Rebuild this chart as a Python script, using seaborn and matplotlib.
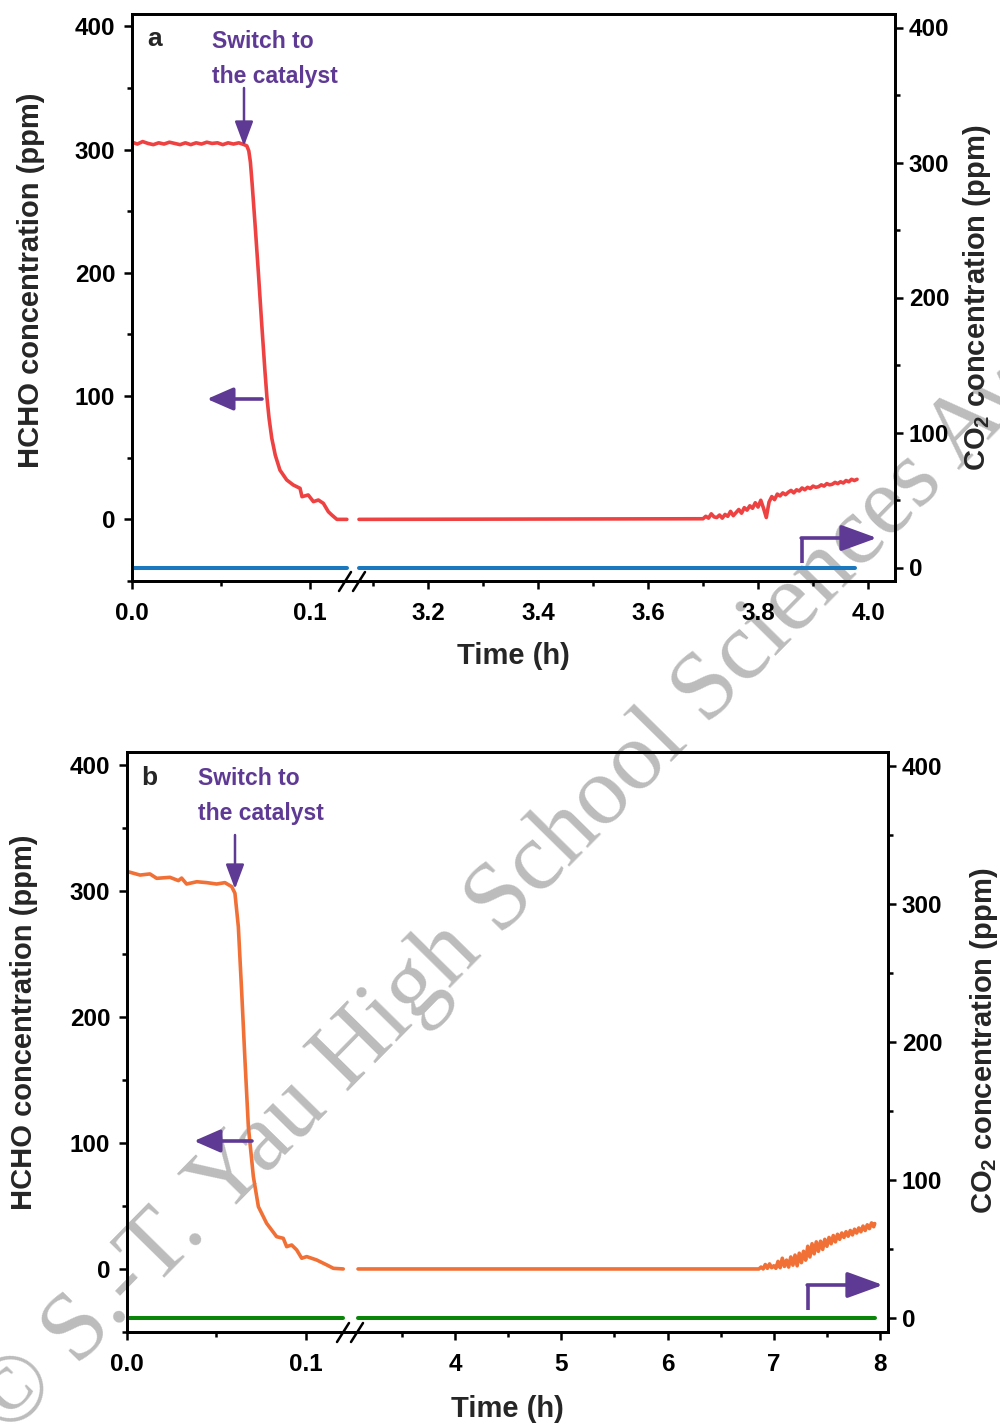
import numpy as np
import pandas as pd
import seaborn as sns
import matplotlib
matplotlib.use("Agg")
import matplotlib.pyplot as plt
from matplotlib.lines import Line2D

# ---------------- data ----------------
# Panel a : HCHO (left axis), first segment of the broken time axis
a_hcho_t1 = [0.000, 0.003, 0.006, 0.009, 0.012, 0.015, 0.018, 0.021, 0.024, 0.027, 0.030,
             0.033, 0.036, 0.039, 0.042, 0.045, 0.048, 0.051, 0.054, 0.057, 0.060, 0.063,
             0.0645, 0.0656, 0.0665, 0.0675, 0.0691, 0.0710, 0.0728, 0.0747, 0.0758, 0.0770,
             0.0785, 0.0805, 0.0831, 0.0869,
             0.0906, 0.0944, 0.0955, 0.0990, 0.1019, 0.1047, 0.1075, 0.1103, 0.1122, 0.1151, 0.1207]
a_hcho_v1 = [306.0, 304.5, 306.5, 305.0, 304.0, 305.5, 304.5, 306.0, 305.0, 304.0, 305.5,
             304.0, 305.5, 304.5, 306.0, 305.0, 305.5, 304.0, 305.5, 304.5, 305.5, 304.0,
             303.0, 299.0, 290.0, 272.0, 240.0, 200.0, 160.0, 120.0, 99.0, 82.0,
             66.0, 52.0, 40.0, 32.0,
             27.9, 25.2, 18.4, 19.8, 14.4, 15.7, 13.0, 6.2, 3.6, 0.0, 0.0]
# Panel a : HCHO, second segment
a_hcho_t2 = [3.0745, 3.700, 3.705, 3.710, 3.715, 3.720, 3.725, 3.730, 3.735, 3.740, 3.745,
             3.750, 3.755, 3.760, 3.765, 3.770, 3.775, 3.780, 3.785, 3.790, 3.795, 3.800,
             3.805, 3.810, 3.815, 3.820, 3.825, 3.830, 3.835, 3.840, 3.845, 3.850, 3.855,
             3.860, 3.865, 3.870, 3.875, 3.880, 3.885, 3.890, 3.895, 3.900, 3.905, 3.910,
             3.915, 3.920, 3.925, 3.930, 3.935, 3.940, 3.945, 3.950, 3.955, 3.960, 3.965,
             3.970, 3.975, 3.980]
a_hcho_v2 = [0.0, 0.5, 2.5, 1.0, 4.5, 2.0, 1.5, 3.5, 1.0, 4.0, 2.5,
             6.5, 3.0, 5.5, 8.0, 5.0, 9.5, 7.5, 11.0, 9.0, 13.5, 10.0,
             15.5, 9.0, 1.5, 14.0, 18.5, 16.0, 20.5, 19.0, 21.5, 20.0, 22.0,
             23.5, 21.5, 24.0, 23.0, 25.5, 24.0, 26.0, 25.0, 27.0, 26.0, 26.5,
             28.0, 27.0, 29.0, 28.0, 28.5, 30.0, 29.0, 30.5, 29.5, 31.5, 30.5,
             32.5, 31.5, 32.5]
# Panel a : CO2 (right axis)
a_co2_t1 = [0.0, 0.1207]
a_co2_v1 = [0.0, 0.0]
a_co2_t2 = [3.0745, 3.976]
a_co2_v2 = [0.0, 0.0]

# Panel b : HCHO, first segment
b_hcho_t1 = [0.0007, 0.0073, 0.0128, 0.0166, 0.0240, 0.0287, 0.0305, 0.0333, 0.0390, 0.0445,
             0.0501, 0.0547, 0.0585, 0.0603, 0.0622, 0.0641, 0.0659, 0.0678, 0.0706, 0.0734,
             0.0780, 0.0836, 0.0873, 0.0892, 0.0920, 0.0948, 0.0976, 0.1004, 0.1060, 0.1116,
             0.1153, 0.1208]
b_hcho_v1 = [315.0, 312.4, 313.3, 309.8, 310.6, 308.0, 310.0, 305.3, 307.1, 306.4,
             305.3, 306.4, 303.2, 298.0, 271.5, 218.8, 165.7, 112.8, 73.2, 49.4,
             36.2, 25.6, 24.3, 17.7, 19.0, 15.1, 8.5, 9.8, 7.1, 3.2,
             0.5, 0.0]
# Panel b : HCHO, second segment
b_hcho_t2 = [3.087, 6.86, 6.88, 6.90, 6.92, 6.94, 6.96, 6.98, 7.00, 7.02, 7.04, 7.06, 7.08,
             7.10, 7.12, 7.14, 7.16, 7.18, 7.20, 7.22, 7.24, 7.26, 7.28, 7.30, 7.32, 7.34,
             7.36, 7.38, 7.40, 7.42, 7.44, 7.46, 7.48, 7.50, 7.52, 7.54, 7.56, 7.58, 7.60,
             7.62, 7.64, 7.66, 7.68, 7.70, 7.72, 7.74, 7.76, 7.78, 7.80, 7.82, 7.84, 7.86,
             7.88, 7.90, 7.92, 7.94, 7.95]
b_hcho_v2 = [0.0, 0.0, 1.5, 0.0, 3.5, 0.5, 4.0, 1.0, 2.5, 0.5, 6.0, 1.0, 8.5,
             2.0, 7.0, 1.5, 9.5, 3.0, 11.0, 2.5, 12.5, 5.0, 14.0, 7.0, 18.0, 9.5,
             20.0, 12.0, 21.5, 14.0, 22.0, 15.5, 23.5, 18.0, 25.0, 20.0, 26.5, 21.5, 27.5,
             23.5, 28.5, 25.0, 29.5, 26.0, 30.5, 27.0, 31.5, 28.5, 32.5, 29.5, 34.0, 30.5,
             35.0, 32.0, 36.5, 33.5, 36.0]
# Panel b : CO2
b_co2_t1 = [0.0, 0.1208]
b_co2_v1 = [0.0, 0.0]
b_co2_t2 = [3.087, 7.953]
b_co2_v2 = [0.0, 0.0]

# ticks / labels
a_xticks = [0.0, 0.1, 3.2, 3.4, 3.6, 3.8, 4.0]
a_xticklabels = ["0.0", "0.1", "3.2", "3.4", "3.6", "3.8", "4.0"]
a_xminor = [0.05, 3.1, 3.3, 3.5, 3.7, 3.9]
b_xticks = [0.0, 0.1, 4, 5, 6, 7, 8]
b_xticklabels = ["0.0", "0.1", "4", "5", "6", "7", "8"]
b_xminor = [0.05, 3.5, 4.5, 5.5, 6.5, 7.5]
y_ticks = [0, 100, 200, 300, 400]
y_minor_left = [-50, 50, 150, 250, 350]
y_minor_right = [50, 150, 250, 350]

# ---------------- style ----------------
sns.set_theme(style="ticks")
plt.rcParams.update({
    "font.family": ["Liberation Sans", "DejaVu Sans"],
    "font.weight": "bold",
    "axes.labelweight": "bold",
    "mathtext.fontset": "custom",
    "mathtext.rm": "Liberation Sans:bold",
    "mathtext.bf": "Liberation Sans:bold",
    "mathtext.it": "Liberation Sans:bold:italic",
    "axes.linewidth": 2.0,
    "axes.edgecolor": "black",
    "xtick.color": "black", "ytick.color": "black",
    "xtick.major.width": 1.8, "ytick.major.width": 1.8,
    "xtick.minor.width": 1.8, "ytick.minor.width": 1.8,
    "xtick.major.size": 6, "ytick.major.size": 6,
    "xtick.minor.size": 3.5, "ytick.minor.size": 3.5,
    "xtick.direction": "out", "ytick.direction": "out",
    "xtick.labelsize": 17.5, "ytick.labelsize": 17.5,
})

W, H = 1000, 1427
fig = plt.figure(figsize=(10, 14.27), dpi=100)
fig.patch.set_facecolor("white")


def fx(x):
    return x / W


def fy(y):
    return 1 - y / H


PURPLE = "#5F3A94"


def broken_scale(k1, b1, a2, k2, eps=1e-3):
    ub1 = b1 * k1
    ua2 = ub1 + (a2 - b1) * eps

    def fwd(x):
        x = np.asarray(x, dtype=float)
        return np.where(x <= b1, x * k1,
                        np.where(x < a2, ub1 + (x - b1) * eps, ua2 + (x - a2) * k2))

    def inv(u):
        u = np.asarray(u, dtype=float)
        return np.where(u <= ub1, u / k1,
                        np.where(u < ua2, b1 + (u - ub1) / eps, a2 + (u - ua2) / k2))
    return fwd, inv


def panel(box, scale, xlim, hcho, co2, colors, xticks, xlabels, xminor,
          letter, letter_xy, text_xy, down_arrow, left_arrow, l_arrow,
          break_x, ylab_l, ylab_r, xlab_pad):
    L, R, T, B = box
    ax = fig.add_axes([fx(L), fy(B), (R - L) / W, (B - T) / H])
    ax.set_facecolor("none")
    ax.set_xscale("function", functions=broken_scale(*scale))
    ax2 = ax.twinx()
    ax2.set_facecolor("none")

    for (t, v) in hcho:
        sns.lineplot(x=t, y=v, ax=ax, color=colors[0], lw=2.6, estimator=None, sort=False)
    for (t, v) in co2:
        sns.lineplot(x=t, y=v, ax=ax2, color=colors[1], lw=2.9, estimator=None, sort=False)

    ax.set_xlim(*xlim)
    ax.set_ylim(-50, 410)
    ax2.set_ylim(-10, 410)
    ax.set_xticks(xticks, xlabels)
    ax.set_xticks(xminor, minor=True)
    ax.set_yticks(y_ticks)
    ax.set_yticks(y_minor_left, minor=True)
    ax2.set_yticks(y_ticks)
    ax2.set_yticks(y_minor_right, minor=True)
    ax.tick_params(axis="x", which="both", pad=9, top=False)
    ax.tick_params(axis="y", which="both", pad=6)
    ax2.tick_params(axis="y", which="both", pad=4)
    for s in ax.spines.values():
        s.set_linewidth(2.0)
    for s in ax2.spines.values():
        s.set_linewidth(2.0)

    ax.set_xlabel("Time (h)", fontsize=21, labelpad=xlab_pad)
    ax.set_ylabel("HCHO concentration (ppm)", fontsize=21)
    ax.yaxis.set_label_coords(*ylab_l)
    ax2.set_ylabel(r"CO$_\mathbf{2}$ concentration (ppm)", fontsize=21)
    ax2.yaxis.set_label_coords(*ylab_r)

    # panel letter + annotation text
    fig.text(fx(letter_xy[0]), fy(letter_xy[1]), letter, fontsize=19,
             fontweight="bold", va="baseline", ha="left")
    fig.text(fx(text_xy[0]), fy(text_xy[1]), "Switch to", fontsize=16.5,
             fontweight="bold", color=PURPLE, va="baseline", ha="left")
    fig.text(fx(text_xy[0]), fy(text_xy[1] + 35), "the catalyst", fontsize=16.5,
             fontweight="bold", color=PURPLE, va="baseline", ha="left")

    # arrows
    (x1, y1), (x2, y2) = down_arrow
    ax.annotate("", xy=(fx(x2), fy(y2)), xytext=(fx(x1), fy(y1)),
                xycoords="figure fraction", textcoords="figure fraction",
                annotation_clip=False,
                arrowprops=dict(arrowstyle="-|>,head_length=0.75,head_width=0.28",
                                color=PURPLE, lw=1.8, mutation_scale=20,
                                shrinkA=0, shrinkB=0))
    (x1, y1), (x2, y2) = left_arrow
    ax.annotate("", xy=(fx(x2), fy(y2)), xytext=(fx(x1), fy(y1)),
                xycoords="figure fraction", textcoords="figure fraction",
                annotation_clip=False,
                arrowprops=dict(arrowstyle="-|>,head_length=0.8,head_width=0.35",
                                color=PURPLE, lw=2.6, mutation_scale=20,
                                shrinkA=0, shrinkB=0))
    (x0, y0), (x1, y1), (x2, y2) = l_arrow
    fig.add_artist(Line2D([fx(x0), fx(x1)], [fy(y0), fy(y1) - 0.0008],
                          transform=fig.transFigure, color=PURPLE, lw=2.6,
                          solid_capstyle="butt"))
    ax.annotate("", xy=(fx(x2), fy(y2)), xytext=(fx(x1) - 0.0008, fy(y1)),
                xycoords="figure fraction", textcoords="figure fraction",
                annotation_clip=False,
                arrowprops=dict(arrowstyle="-|>,head_length=1.1,head_width=0.4",
                                color=PURPLE, lw=2.6, mutation_scale=20,
                                shrinkA=0, shrinkB=0))

    # axis-break marks
    for dx in (-7, 7):
        cx = break_x + dx
        fig.add_artist(Line2D([fx(cx - 6), fx(cx + 6)], [fy(B + 10), fy(B - 9)],
                              transform=fig.transFigure, color="black", lw=1.8))
    return ax, ax2


panel(box=(132, 895, 14, 581),
      scale=(1780, 0.12247, 3.0582, 550),
      xlim=(0, 4.049),
      hcho=[(a_hcho_t1, a_hcho_v1), (a_hcho_t2, a_hcho_v2)],
      co2=[(a_co2_t1, a_co2_v1), (a_co2_t2, a_co2_v2)],
      colors=("#EE4242", "#1B78BE"),
      xticks=a_xticks, xlabels=a_xticklabels, xminor=a_xminor,
      letter="a", letter_xy=(147, 46), text_xy=(212, 48),
      down_arrow=((244, 88), (244, 146)),
      left_arrow=((262, 399), (207, 399)),
      l_arrow=((802, 563), (802, 538), (877, 538)),
      break_x=352,
      ylab_l=(-0.114, 0.53), ylab_r=(1.086, 0.5), xlab_pad=12)

panel(box=(127, 888, 752, 1332),
      scale=(1790, 0.1246, 3.0118, 106.25),
      xlim=(0, 8.075),
      hcho=[(b_hcho_t1, b_hcho_v1), (b_hcho_t2, b_hcho_v2)],
      co2=[(b_co2_t1, b_co2_v1), (b_co2_t2, b_co2_v2)],
      colors=("#F07036", "#0A850A"),
      xticks=b_xticks, xlabels=b_xticklabels, xminor=b_xminor,
      letter="b", letter_xy=(141, 785), text_xy=(198, 785),
      down_arrow=((235, 835), (235, 889)),
      left_arrow=((252, 1141), (194, 1141)),
      l_arrow=((808, 1310), (808, 1285), (883, 1285)),
      break_x=350,
      ylab_l=(-0.117, 0.534), ylab_r=(1.105, 0.502), xlab_pad=14)

# watermark (drawn beneath the transparent axes)
fig.text(0.008, fy(1437), "\u00a9 S.-T. Yau High School Sciences Awards",
         family=["Liberation Serif", "DejaVu Serif"], fontweight="normal",
         fontsize=70, color="#bcbcbc", rotation=45.5, rotation_mode="anchor",
         ha="left", va="baseline", zorder=-5)

fig.savefig("out.png", dpi=100, facecolor="white")
